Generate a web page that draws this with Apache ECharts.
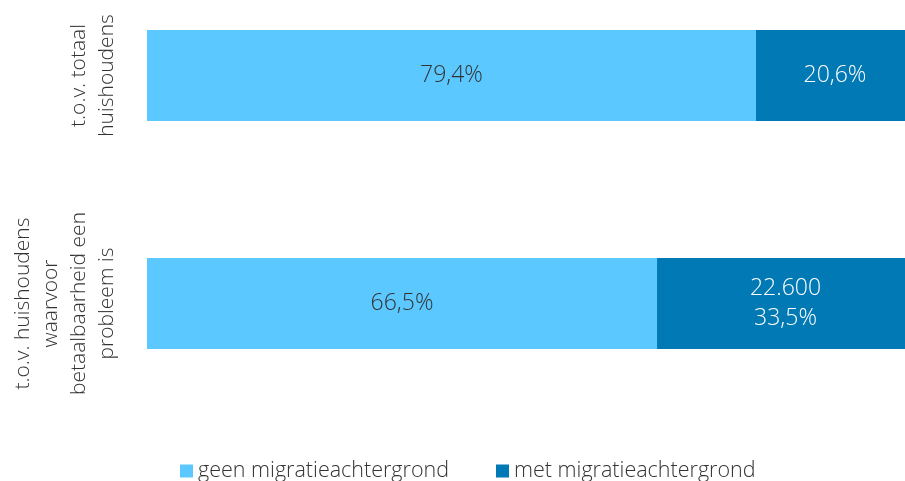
<!DOCTYPE html>
<html>
<head>
<meta charset="utf-8">
<script src="https://cdn.jsdelivr.net/npm/echarts@6/dist/echarts.min.js"></script>
<style>
  html, body { margin: 0; padding: 0; background: #fff; }
  #chart { width: 905px; height: 481px; }
</style>
</head>
<body>
<div id="chart"></div>
<script>
// categorieen (van boven naar beneden)
var categories = [
  "t.o.v. totaal\nhuishoudens",
  "t.o.v. huishoudens\nwaarvoor\nbetaalbaarheid een\nprobleem is"
];
var seriesNames = ["geen migratieachtergrond", "met migratieachtergrond"];
var geenValues = [79.4, 66.5];
var metValues = [20.6, 33.5];
// extra aantal boven het percentage
var metCounts = ["", "22.600"];

var FONT = "'Open Sans', sans-serif";

function pct(v) {
  return v.toFixed(1).replace(".", ",") + "%";
}

var chart = echarts.init(document.getElementById("chart"));
chart.setOption({
  animation: false,
  textStyle: { fontFamily: FONT },
  // categorieen op de rand van het grid (boundaryGap false)
  grid: { left: 147, right: 0, top: 75.5, bottom: 177.5 },
  legend: {
    left: 175,
    top: 455,
    itemWidth: 13,
    itemHeight: 13,
    itemGap: 47,
    icon: "rect",
    textStyle: { fontSize: 21.5, color: "#333", fontWeight: 300, fontFamily: FONT },
    data: seriesNames
  },
  xAxis: {
    type: "value",
    min: 0,
    // de 100%-balk loopt in het origineel iets buiten beeld door
    max: 98.83,
    show: false
  },
  yAxis: {
    type: "category",
    inverse: true,
    boundaryGap: false,
    data: categories,
    axisLine: { show: false },
    axisTick: { show: false },
    splitLine: { show: false },
    axisLabel: {
      interval: 0,
      rotate: 90,
      margin: 26,
      fontSize: 21,
      lineHeight: 28,
      color: "#333",
      fontWeight: 300,
      fontFamily: FONT
    }
  },
  series: [
    {
      name: seriesNames[0],
      type: "bar",
      stack: "totaal",
      barWidth: 91,
      clip: false,
      data: geenValues,
      itemStyle: { color: "#5BC9FF" },
      label: {
        show: true,
        position: "inside",
        fontSize: 23,
        color: "#333",
        fontWeight: 300,
        fontFamily: FONT,
        formatter: function (p) { return pct(p.value); }
      }
    },
    {
      name: seriesNames[1],
      type: "bar",
      stack: "totaal",
      barWidth: 91,
      clip: false,
      data: metValues,
      itemStyle: { color: "#0079B4" },
      label: {
        show: true,
        position: "inside",
        fontSize: 23,
        lineHeight: 30,
        color: "#fff",
        fontWeight: 300,
        fontFamily: FONT,
        formatter: function (p) {
          var c = metCounts[p.dataIndex];
          return c ? c + "\n" + pct(p.value) : pct(p.value);
        }
      }
    }
  ]
});
</script>
</body>
</html>
